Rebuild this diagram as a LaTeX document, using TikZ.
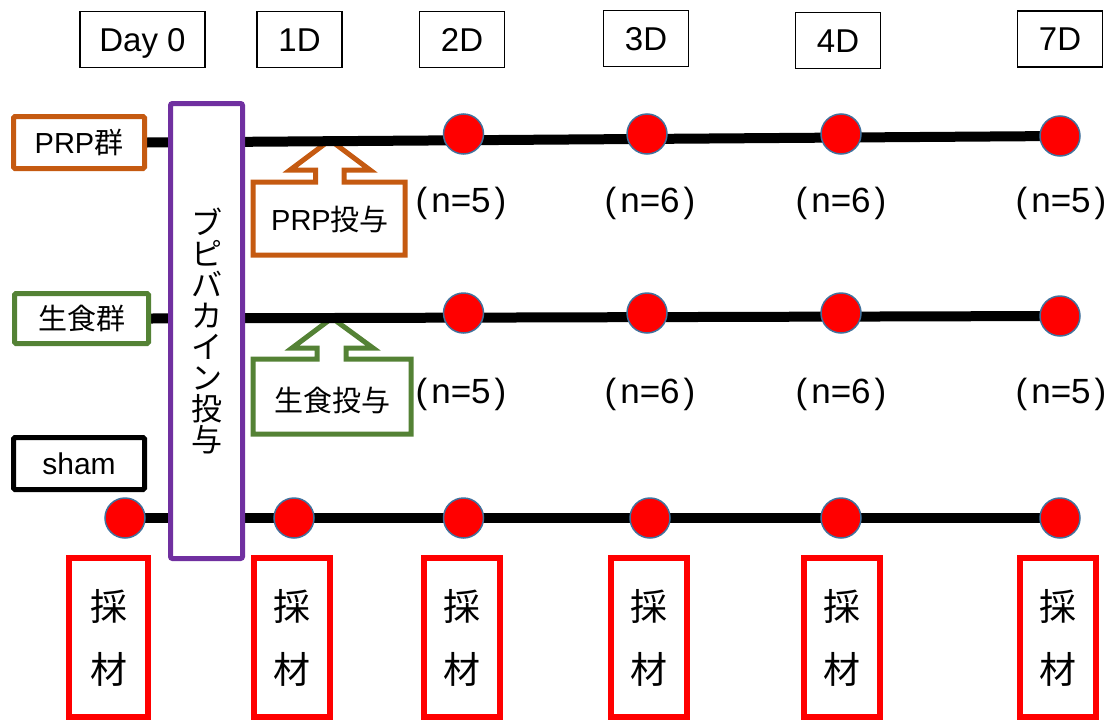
\documentclass[tikz,border=0pt]{standalone}
\usepackage{fontspec}
\setmainfont{Liberation Sans}
\newfontfamily\cjk{Noto Sans CJK JP}
\definecolor{prporange}{RGB}{197,90,17}
\definecolor{salgreen}{RGB}{84,130,53}
\definecolor{bupurple}{RGB}{112,48,160}
\definecolor{dotedge}{RGB}{65,113,156}
\pgfdeclarelayer{calls}
\pgfdeclarelayer{lines}
\pgfsetlayers{calls,lines,main}
\tikzset{
 daybox/.style={draw=black, line width=1.5pt, minimum width=85pt, minimum height=56pt, inner sep=0pt,
   font=\fontsize{33}{33}\selectfont, text height=23.8pt, text depth=0pt},
 grpbox/.style={line width=5pt, minimum width=131pt, minimum height=52pt, inner sep=0pt, fill=white,
   rounded corners=1.5pt, font=\fontsize{29}{29}\selectfont},
 samplebox/.style={draw=red, line width=6pt, minimum width=76pt, minimum height=159pt, inner sep=0pt,
   align=center, font=\cjk\fontsize{37}{63}\selectfont},
 sdot/.style={circle, fill=red, draw=dotedge, line width=1.5pt, minimum size=40pt, inner sep=0pt},
 mainline/.style={line width=10pt, black},
 nlabel/.style={inner sep=0pt, font=\fontsize{35}{35}\selectfont, text height=25.2pt, text depth=0pt},
 calloutpath/.style={line width=5pt, fill=white, line join=miter},
 callouttext/.style={inner sep=0pt, font=\fontsize{29}{29}\selectfont},
}
\newcommand{\nlab}[1]{(\kern4pt n=#1\kern4pt)}
\begin{document}
\begin{tikzpicture}[x=1pt,y=-1pt]
\useasboundingbox (0,0) rectangle (1111,723);
% day labels
\node[daybox, minimum width=125pt] (d0) at (142.5,39.5) {Day 0};
\node[daybox] (d1) at (299.5,39.5) {1D};
\node[daybox] (d2) at (462,39.5) {2D};
\node[daybox] (d3) at (646,38.5) {3D};
\node[daybox] (d4) at (838,40.5) {4D};
\node[daybox] (d7) at (1060,39) {7D};
% group labels
\node[grpbox, draw=prporange] (prp) at (79,142.5) {PRP{\cjk 群}};
\node[grpbox, draw=salgreen, minimum width=134pt, minimum height=50pt] (sal) at (81.5,318.5) {{\cjk 生食群}};
\node[grpbox, draw=black, font=\fontsize{30}{30}\selectfont] (sham) at (79,463.5) {sham};
% bupivacaine box
\node[draw=bupurple, fill=white, line width=5pt, minimum width=72pt, minimum height=455pt, inner sep=0pt,
  rounded corners=2pt, align=center, font=\cjk\fontsize{31}{31}\selectfont] (bupi) at (206.5,331)
  {ブ\\ピ\\バ\\カ\\イ\\ン\\投\\与};
% dots PRP row
\node[sdot] (p2) at (463.5,134) {};
\node[sdot] (p3) at (647,134) {};
\node[sdot] (p4) at (841,134) {};
\node[sdot] (p7) at (1060,136) {};
% dots saline row
\node[sdot] (g2) at (463.5,313) {};
\node[sdot] (g3) at (647,313) {};
\node[sdot] (g4) at (841,313) {};
\node[sdot] (g7) at (1060,316) {};
% dots sham row
\node[sdot] (s0) at (125,518) {};
\node[sdot] (s1) at (294,518) {};
\node[sdot] (s2) at (463.5,518) {};
\node[sdot] (s3) at (650,518) {};
\node[sdot] (s4) at (841,518) {};
\node[sdot] (s7) at (1060,518) {};
% n labels
\node[nlabel] (np2) at (461,199.5) {\nlab{5}};
\node[nlabel] (np3) at (650,199.5) {\nlab{6}};
\node[nlabel] (np4) at (841,199.5) {\nlab{6}};
\node[nlabel] (np7) at (1061,199.5) {\nlab{5}};
\node[nlabel] (ng2) at (461,391) {\nlab{5}};
\node[nlabel] (ng3) at (650,391) {\nlab{6}};
\node[nlabel] (ng4) at (841,391) {\nlab{6}};
\node[nlabel] (ng7) at (1061,391) {\nlab{5}};
% sampling boxes
\node[samplebox, minimum width=79pt] (r0) at (108.5,637.5) {採\\材};
\node[samplebox] (r1) at (292,637.5) {採\\材};
\node[samplebox] (r2) at (462,637.5) {採\\材};
\node[samplebox] (r3) at (649,637.5) {採\\材};
\node[samplebox] (r4) at (842,637.5) {採\\材};
\node[samplebox] (r7) at (1058,637.5) {採\\材};
% callouts
\begin{pgfonlayer}{calls}
\draw[calloutpath, draw=prporange] (253,255) -- (253,182) -- (315.5,182) -- (315.5,170) -- (290,170)
  -- (330,140) -- (370,170) -- (344,170) -- (344,182) -- (405,182) -- (405,255) -- cycle;
\draw[calloutpath, draw=salgreen] (253,434) -- (253,359) -- (317,359) -- (317,348) -- (292,348)
  -- (332,318) -- (373,348) -- (346,348) -- (346,359) -- (411,359) -- (411,434) -- cycle;
\end{pgfonlayer}
\node[callouttext] (prpgive) at (330,219) {PRP{\cjk 投与}};
\node[callouttext] (salgive) at (332,400) {{\cjk 生食投与}};
% timelines
\begin{pgfonlayer}{lines}
\draw[mainline] (prp.east) -- (p7.center);
\draw[mainline] (sal.east) -- (g7.center);
\draw[mainline] (s0.center) -- (s7.center);
\end{pgfonlayer}
\end{tikzpicture}
\end{document}
